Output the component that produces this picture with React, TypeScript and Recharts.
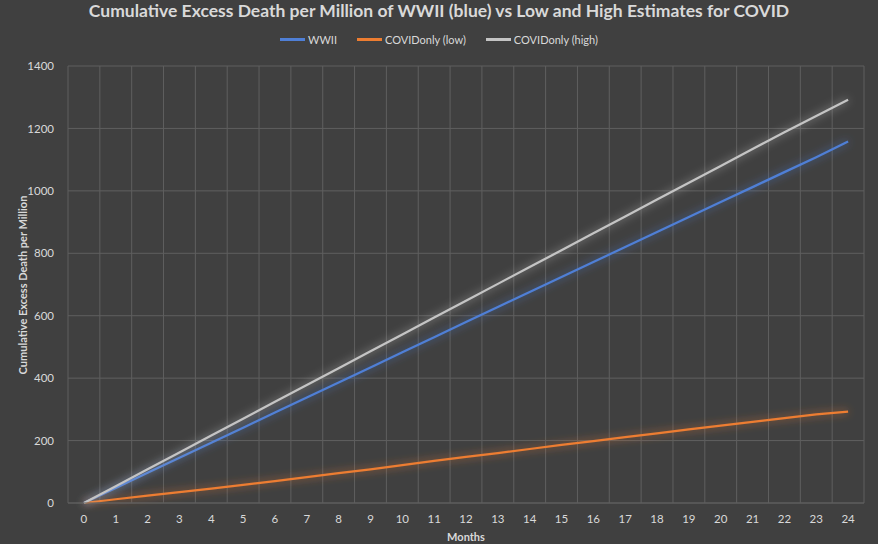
import { LineChart, Line, XAxis, YAxis, CartesianGrid, ReferenceLine } from 'recharts';

const months = [0, 1, 2, 3, 4, 5, 6, 7, 8, 9, 10, 11, 12, 13, 14, 15, 16, 17, 18, 19, 20, 21, 22, 23, 24];
const wwii = [0, 48, 97, 145, 193, 241, 290, 338, 386, 434, 483, 531, 580, 628, 676, 724, 772, 820, 868, 916, 964, 1012, 1060, 1108, 1158];
const covidLow = [0, 12, 24, 35, 46, 58, 70, 83, 96, 108, 121, 135, 148, 160, 173, 186, 198, 211, 223, 236, 248, 260, 272, 284, 293];
const covidHigh = [0, 54, 108, 162, 216, 270, 324, 378, 432, 486, 540, 594, 648, 702, 756, 810, 864, 918, 972, 1026, 1080, 1134, 1188, 1240, 1292];
const yTicks = [0, 200, 400, 600, 800, 1000, 1200, 1400];
// category boundaries, Excel draws the vertical gridlines between the months
const gridMonths = [-0.5, 0.5, 1.5, 2.5, 3.5, 4.5, 5.5, 6.5, 7.5, 8.5, 9.5, 10.5, 11.5, 12.5, 13.5, 14.5, 15.5, 16.5, 17.5, 18.5, 19.5, 20.5, 21.5, 22.5, 23.5, 24.5];

const seriesInfo = [
  { key: 'wwii', name: 'WWII', color: '#4f7fd6', glow: 'glowBlue' },
  { key: 'low', name: 'COVIDonly (low)', color: '#ed7d31', glow: 'glowOrange' },
  { key: 'high', name: 'COVIDonly (high)', color: '#c4c4c4', glow: 'glowGrey' },
];

const chartData = months.map((m, i) => ({
  month: m,
  wwii: wwii[i],
  low: covidLow[i],
  high: covidHigh[i],
}));

const font = 'Lato, "Open Sans", sans-serif';
const textColor = '#d9d9d9';
const gridColor = '#5f5f5f';

function Glow({ id }: { id: string }) {
  return (
    <filter id={id} x="-20%" y="-20%" width="140%" height="140%">
      <feGaussianBlur in="SourceGraphic" stdDeviation="4" result="b" />
      <feComponentTransfer in="b" result="bf">
        <feFuncA type="linear" slope="0.8" />
      </feComponentTransfer>
      <feMerge>
        <feMergeNode in="bf" />
        <feMergeNode in="SourceGraphic" />
      </feMerge>
    </filter>
  );
}

export default function App() {
  return (
    <div style={{ position: 'absolute', left: 0, top: 0, width: 878, height: 544, background: '#404040', fontFamily: font, overflow: 'hidden' }}>
      <div style={{ position: 'absolute', top: 0, left: 0, width: 878, textAlign: 'center', color: textColor, fontSize: 17.5, fontWeight: 700, lineHeight: '21px' }}>
        Cumulative Excess Death per Million of WWII (blue) vs Low and High Estimates for COVID
      </div>

      {/* Legend */}
      <div style={{ position: 'absolute', top: 33, left: 0, width: 878, display: 'flex', justifyContent: 'center', gap: 20, fontSize: 11, color: textColor }}>
        {seriesInfo.map(s => (
          <div key={s.key} style={{ display: 'flex', alignItems: 'center', gap: 3 }}>
            <div style={{ width: 25, height: 3, background: s.color }} />
            <span>{s.name}</span>
          </div>
        ))}
      </div>

      <div style={{ position: 'absolute', left: 6, top: 285, transform: 'translate(-50%, -50%) rotate(-90deg)', transformOrigin: 'center', marginLeft: 16, color: textColor, fontSize: 11, fontWeight: 700, whiteSpace: 'nowrap' }}>
        Cumulative Excess Death per Million
      </div>
      <div style={{ position: 'absolute', left: 0, width: 932, top: 530, textAlign: 'center', color: textColor, fontSize: 11, fontWeight: 700 }}>
        Months
      </div>

      <LineChart width={878} height={544} data={chartData} margin={{ top: 66, right: 14, bottom: 0, left: 18 }} style={{ position: 'absolute', left: 0, top: 0 }}>
        <defs>
          <Glow id="glowBlue" />
          <Glow id="glowOrange" />
          <Glow id="glowGrey" />
        </defs>
        <CartesianGrid vertical={false} stroke={gridColor} />
        {gridMonths.map(g => (
          <ReferenceLine key={g} x={g} stroke={gridColor} strokeWidth={1} />
        ))}
        <XAxis
          dataKey="month"
          type="number"
          domain={[-0.5, 24.5]}
          ticks={months}
          interval={0}
          height={41}
          tickLine={false}
          axisLine={{ stroke: gridColor }}
          tick={{ fill: textColor, fontSize: 11.5, fontFamily: font }}
          tickMargin={6}
        />
        <YAxis
          domain={[0, 1400]}
          ticks={yTicks}
          width={50}
          tickLine={false}
          axisLine={false}
          tick={{ fill: textColor, fontSize: 11.5, fontFamily: font }}
          tickMargin={8}
        />
        {seriesInfo.map(s => (
          <Line
            key={s.key}
            type="linear"
            dataKey={s.key}
            name={s.name}
            stroke={s.color}
            strokeWidth={2.25}
            dot={false}
            filter={`url(#${s.glow})`}
            isAnimationActive={false}
          />
        ))}
      </LineChart>
    </div>
  );
}
